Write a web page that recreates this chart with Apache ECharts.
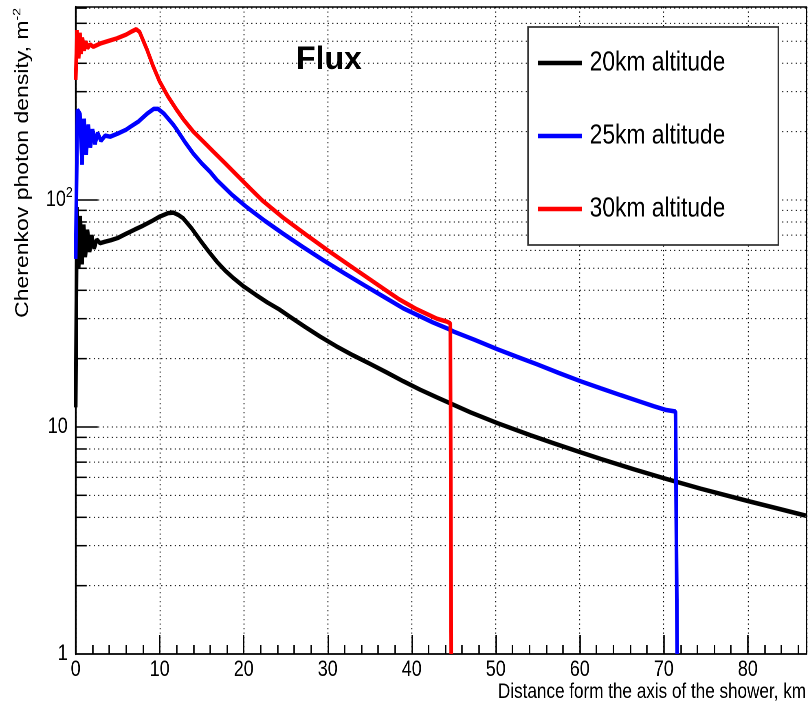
<!DOCTYPE html>
<html>
<head>
<meta charset="utf-8">
<title>Flux</title>
<script src="https://cdn.jsdelivr.net/npm/echarts@6/dist/echarts.min.js"></script>
<style>
  html, body { margin: 0; padding: 0; background: #fff; overflow: hidden; }
  #wrap { width: 809px; height: 708px; overflow: hidden; position: relative; }
  #chart { height: 708px; transform-origin: 0 0; position: absolute; left: 0; top: 0; }
</style>
</head>
<body>
<div id="wrap"><div id="chart"></div></div>
<script>
// Cherenkov photon density vs. distance from the shower axis (km), three altitudes
const alt20km = [
  [0, 12.2], [0.15, 93], [0.35, 50], [0.55, 85], [0.75, 52], [0.95, 78], [1.15, 56],
  [1.4, 74], [1.65, 59], [1.9, 70], [2.2, 61], [2.5, 67], [2.9, 64.5], [3.5, 65.5],
  [4.2, 66.5], [5, 68], [6, 71], [7, 74], [8, 77], [9, 80.5], [10, 84.5], [11, 87.5],
  [11.6, 88], [12.2, 86], [12.8, 83], [13.8, 75], [14.8, 66.6], [15.8, 59.5],
  [16.8, 53.5], [17.8, 48.8], [18.8, 45.2], [20, 41.6], [21.4, 38.3], [22.8, 35.4],
  [24.2, 33], [25.5, 30.6], [27.3, 27.6], [29.1, 25.0], [31, 22.7], [33, 20.7],
  [35, 19.0], [37, 17.4], [39, 15.9], [41, 14.6], [43, 13.5], [44.6, 12.7], [47, 11.6],
  [50.2, 10.4], [54.2, 9.18], [57, 8.45], [59.7, 7.82], [62.5, 7.23], [66.5, 6.50],
  [70, 5.95], [74.4, 5.35], [80, 4.72], [83.5, 4.38], [86.9, 4.07]
];
const alt25km = [
  [0, 55], [0.2, 250], [0.5, 240], [0.75, 143], [1.0, 228], [1.25, 158], [1.5, 215],
  [1.75, 170], [2.0, 205], [2.3, 176], [2.6, 198], [3.0, 182], [3.5, 192], [4.1, 190],
  [5, 196], [6, 204], [6.5, 210], [7.5, 222], [8.5, 240], [9.3, 252], [9.8, 252],
  [10.5, 240], [11.6, 215], [12.0, 205], [13, 180], [14.0, 160], [15, 145], [16, 133],
  [16.8, 122.5], [18.6, 105.4], [20.4, 92.7], [22.5, 81.0], [24.7, 71.0], [27, 62.2],
  [29.5, 54.2], [32, 47.5], [34.3, 42.2], [36.7, 37.4], [39, 33.3], [41, 30.7],
  [42.5, 28.9], [44.2, 27.2], [45, 26.3], [47.5, 24.2], [50.2, 22.0], [52.5, 20.4],
  [54.9, 18.9], [57.5, 17.3], [60.1, 15.9], [62.5, 14.8], [64.9, 13.8], [67, 13.0],
  [68.8, 12.35], [70.2, 11.9], [71.4, 11.7], [71.6, 1]
];
const alt30km = [
  [0, 338], [0.15, 560], [0.35, 420], [0.5, 545], [0.65, 440], [0.8, 520], [1.0, 455],
  [1.2, 500], [1.4, 465], [1.7, 485], [2.1, 473], [3, 490], [4, 503], [4.9, 515],
  [6, 535], [6.7, 553], [7.2, 565], [7.6, 550], [8.5, 458], [9.2, 390], [10, 332],
  [11, 285], [12, 250], [12.8, 227], [14, 200], [15.2, 180.7], [16.4, 163], [17.8, 145],
  [19.2, 128.5], [20.8, 112], [22.2, 99.6], [24.7, 83.5], [27.5, 70], [30, 60], [33.1, 50],
  [36.7, 40.5], [38.5, 36.5], [40.6, 33], [43, 30], [44.2, 29.1], [44.6, 28.6], [44.7, 1]
];

const seriesNames = ['20km altitude', '25km altitude', '30km altitude'];
const seriesColors = ['#000000', '#0000ff', '#ff0000'];

// horizontal grid lines / ticks of the logarithmic y axis
const yGridValues = [2, 3, 4, 5, 6, 7, 8, 9, 10, 20, 30, 40, 50, 60, 70, 80, 90,
                     100, 200, 300, 400, 500, 600, 700];

const X_MIN = 0, X_MAX = 87, X_STEP = 10;
const Y_MIN = 1, Y_MAX = 708;

// The canvas is drawn wider and squeezed horizontally, giving the narrow
// Helvetica-like lettering; ux() converts a final page x into canvas units.
const PAGE_W = 809, PAGE_H = 708;
const SX = 0.8147;
const CANVAS_W = Math.round(PAGE_W / SX);
const ux = px => px / SX;

const SANS = "'Liberation Sans', Arial, Helvetica, sans-serif";

function isDecade(v) {
  const e = Math.log10(v);
  return Math.abs(e - Math.round(e)) < 1e-6;
}

function renderYGrid(params, api) {
  const v = api.value(1);
  const p = api.coord([X_MIN, v]);
  const cs = params.coordSys;
  const tickLen = isDecade(v) ? ux(22) : ux(11);
  return {
    type: 'group',
    silent: true,
    children: [
      {
        type: 'line',
        shape: { x1: cs.x, y1: p[1], x2: cs.x + cs.width, y2: p[1] },
        style: { stroke: '#000', lineWidth: 1, lineDash: [ux(1.2), ux(3.3)] }
      },
      {
        type: 'line',
        shape: { x1: cs.x, y1: p[1], x2: cs.x + tickLen, y2: p[1] },
        style: { stroke: '#000', lineWidth: 1.5 }
      }
    ]
  };
}

const el = document.getElementById('chart');
el.style.width = CANVAS_W + 'px';
el.style.transform = 'scaleX(' + (PAGE_W / CANVAS_W) + ')';

const chart = echarts.init(el, null, { renderer: 'canvas', devicePixelRatio: 2 });

const lineSeries = [alt20km, alt25km, alt30km].map((data, i) => ({
  name: seriesNames[i],
  type: 'line',
  data: data,
  showSymbol: false,
  symbol: 'none',
  lineStyle: { color: seriesColors[i], width: 4.5 },
  itemStyle: { color: seriesColors[i] },
  z: 3 + i,
  clip: true,
  silent: true
}));

chart.setOption({
  animation: false,
  backgroundColor: '#ffffff',
  grid: {
    left: ux(75.7), right: ux(PAGE_W - 806.7), top: 7, bottom: 54,
    show: true, borderColor: '#000', borderWidth: 1.5, backgroundColor: 'transparent'
  },
  xAxis: {
    type: 'value',
    min: X_MIN, max: X_MAX, interval: X_STEP,
    axisLine: { show: true, lineStyle: { color: '#000', width: 1.5 } },
    axisTick: { show: true, inside: true, length: 19, lineStyle: { color: '#000', width: 1.8 } },
    minorTick: { show: true, splitNumber: 5, length: 9, lineStyle: { color: '#000', width: 1.8 } },
    splitLine: { show: true, lineStyle: { color: '#000', width: 1.2, type: [1.2, 3.3] } },
    axisLabel: {
      margin: 5, color: '#000', fontFamily: SANS, fontSize: 22,
      formatter: v => (v % X_STEP === 0 ? String(v) : '')
    }
  },
  yAxis: {
    type: 'log',
    logBase: 10,
    min: Y_MIN, max: Y_MAX,
    splitNumber: 3,
    axisLine: { show: true, lineStyle: { color: '#000', width: 2.2 } },
    axisTick: { show: false },
    splitLine: { show: false },
    axisLabel: {
      margin: ux(3), color: '#000', fontFamily: SANS, fontSize: 22,
      formatter: function (v) {
        if (!isDecade(v)) return '';
        const e = Math.round(Math.log10(v));
        if (e === 0) return '{n|1}';
        if (e === 1) return '{n|10}';
        return '{b|10}{s|' + e + '}';
      },
      rich: {
        n: { fontFamily: SANS, fontSize: 22, color: '#000', padding: [0, ux(5), 0, 0] },
        b: { fontFamily: SANS, fontSize: 22, color: '#000' },
        s: { fontFamily: SANS, fontSize: 15, color: '#000', padding: [0, 0, 14, 0] }
      }
    }
  },
  legend: {
    data: seriesNames,
    orient: 'vertical',
    left: ux(528), top: 27,
    icon: 'rect',
    itemWidth: ux(44), itemHeight: 4.5, itemGap: 43,
    padding: [21, 65, 21, ux(10)],
    backgroundColor: '#ffffff',
    borderColor: '#333', borderWidth: 1.8,
    selectedMode: false,
    z: 10,
    textStyle: { fontFamily: SANS, fontSize: 28, color: '#000', lineHeight: 30, padding: [0, 0, 0, 4.4] }
  },
  graphic: [
    {
      type: 'text', x: ux(296), y: 60, scaleX: 1 / SX, z: 10,
      style: { text: 'Flux', font: 'bold 32px ' + SANS, fill: '#000', align: 'left', verticalAlign: 'middle' }
    },
    {
      type: 'text', x: ux(806), y: 692, z: 10,
      style: {
        text: 'Distance form the axis of the shower, km',
        font: '21px ' + SANS, fill: '#000', align: 'right', verticalAlign: 'middle'
      }
    },
    {
      type: 'text', x: ux(23), y: 8, rotation: Math.PI / 2, z: 10,
      style: {
        text: '{a|Cherenkov photon density, m}{s|-2}',
        align: 'right', verticalAlign: 'middle',
        rich: {
          a: { fontFamily: SANS, fontSize: 23, fill: '#000' },
          s: { fontFamily: SANS, fontSize: 14, fill: '#000', padding: [0, 0, 14, 0] }
        }
      }
    }
  ],
  series: [
    {
      type: 'custom',
      name: 'yGrid',
      coordinateSystem: 'cartesian2d',
      renderItem: renderYGrid,
      data: yGridValues.map(v => [X_MIN, v]),
      silent: true,
      clip: false,
      z: 1
    },
    ...lineSeries
  ]
});
</script>
</body>
</html>
